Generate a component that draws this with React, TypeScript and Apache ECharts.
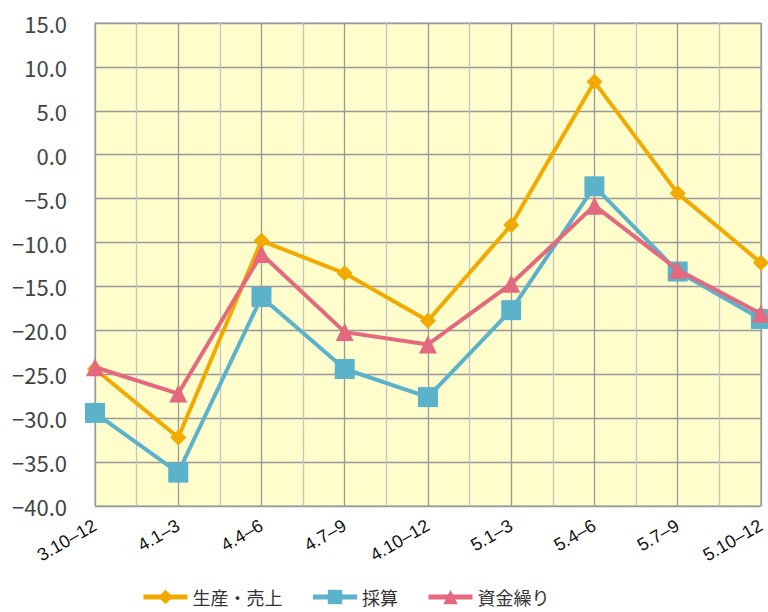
import React, { useEffect, useRef } from "react";
import * as echarts from "echarts";

const categories = ["3.10–12", "4.1–3", "4.4–6", "4.7–9", "4.10–12", "5.1–3", "5.4–6", "5.7–9", "5.10–12"];
const seriesNames = ["生産・売上", "採算", "資金繰り"];
const production = [-24.4, -32.2, -9.8, -13.5, -18.9, -8.0, 8.3, -4.4, -12.3];
const profit = [-29.4, -36.2, -16.2, -24.4, -27.6, -17.7, -3.6, -13.3, -18.7];
const funding = [-24.2, -27.2, -11.3, -20.2, -21.6, -14.7, -5.8, -13.1, -18.1];
const yMin = -40;
const yMax = 15;
const yStep = 5;

export default function App() {
  const ref = useRef<HTMLDivElement>(null);
  useEffect(() => {
    if (!ref.current) return;
    const chart = echarts.init(ref.current, undefined, { renderer: "svg" });
    const font = "'Noto Sans CJK JP', 'Noto Sans', sans-serif";
    chart.setOption({
      animation: false,
      grid: {
        left: 95,
        right: 4,
        top: 23,
        bottom: 106,
        show: true,
        backgroundColor: "#FFFDCB",
        borderColor: "#999999",
        borderWidth: 1,
      },
      legend: {
        bottom: 1,
        left: 136,
        itemWidth: 44,
        itemHeight: 18,
        itemGap: 28,
        lineStyle: { width: 5 },
        textStyle: { fontFamily: font, fontSize: 18, color: "#333" },
        data: seriesNames,
      },
      xAxis: [
        {
          type: "category",
          data: categories,
          boundaryGap: false,
          axisLine: { show: false },
          axisTick: { show: false },
          splitLine: { show: false },
          axisLabel: {
            rotate: 30,
            fontFamily: "'Liberation Sans', Arial, sans-serif",
            fontSize: 18,
            color: "#111",
            margin: 18,
            interval: 0,
          },
        },
        {
          type: "value",
          min: 0,
          max: 8,
          interval: 0.5,
          show: true,
          position: "bottom",
          axisLine: { show: false },
          axisTick: { show: false },
          axisLabel: { show: false },
          splitLine: { show: true, lineStyle: { color: ["#999999", "#C4C4C4"], width: 1.3 } },
        },
      ],
      yAxis: {
        type: "value",
        min: yMin,
        max: yMax,
        interval: yStep,
        axisLine: { show: true, lineStyle: { color: "#999999" } },
        axisTick: { show: false },
        splitLine: { show: true, lineStyle: { color: "#999999", width: 1.3 } },
        axisLabel: {
          fontFamily: font,
          fontSize: 22,
          color: "#444",
          margin: 28,
          formatter: (v: number) => (v < 0 ? "−" + Math.abs(v).toFixed(1) : v.toFixed(1)),
        },
      },
      series: [
        {
          name: seriesNames[0],
          type: "line",
          data: production,
          symbol: "diamond",
          symbolSize: 16,
          lineStyle: { width: 4, color: "#F2AA00" },
          itemStyle: { color: "#F2AA00" },
          z: 3,
        },
        {
          name: seriesNames[1],
          type: "line",
          data: profit,
          symbol: "rect",
          symbolSize: 20,
          lineStyle: { width: 4, color: "#5AB3CB" },
          itemStyle: { color: "#5AB3CB" },
          z: 4,
        },
        {
          name: seriesNames[2],
          type: "line",
          data: funding,
          symbol: "triangle",
          symbolSize: 18,
          lineStyle: { width: 4, color: "#E4687E" },
          itemStyle: { color: "#E4687E" },
          z: 5,
        },
      ],
    });
    return () => chart.dispose();
  }, []);
  return (
    <div
      ref={ref}
      style={{ position: "fixed", left: 0, top: 0, width: 768, height: 612, background: "#fff" }}
    />
  );
}
